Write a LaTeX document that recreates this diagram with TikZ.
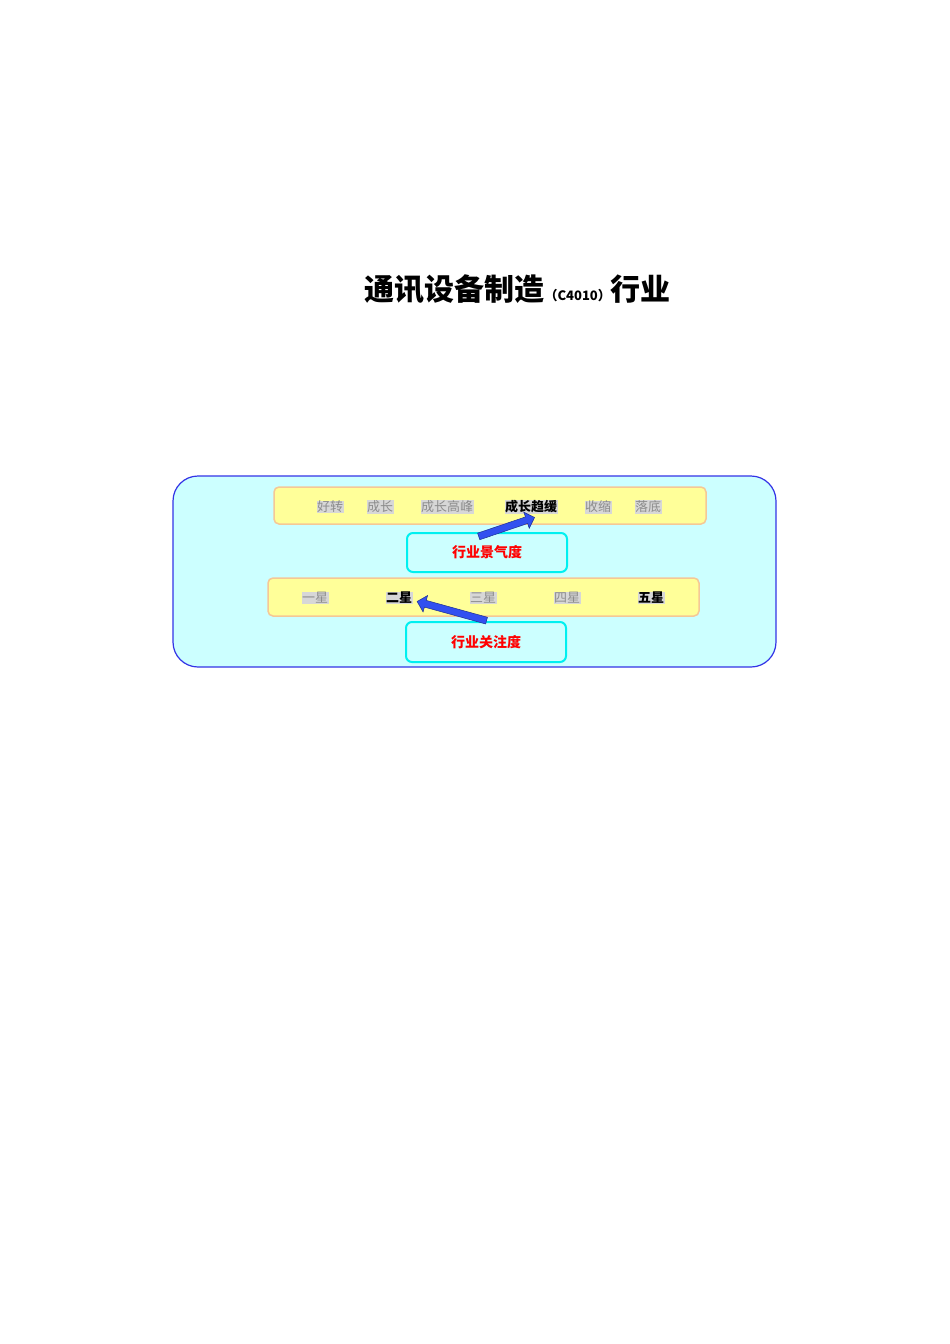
\documentclass[tikz,border=0pt]{standalone}
\usepackage{fontspec}
\newfontfamily\cjk{Noto Sans CJK SC}
\usetikzlibrary{shapes.arrows}
\definecolor{outerfill}{RGB}{204,255,255}
\definecolor{outerline}{RGB}{51,51,230}
\definecolor{yfill}{RGB}{255,255,153}
\definecolor{yline}{RGB}{245,200,150}
\definecolor{cline}{RGB}{0,240,240}
\definecolor{tagbg}{RGB}{215,215,215}
\definecolor{tagfg}{RGB}{140,140,140}
\definecolor{arrowblue}{RGB}{50,80,240}
\tikzset{
  band/.style={draw=yline,line width=1.5pt,fill=yfill,rounded corners=5pt},
  cbox/.style={draw=cline,line width=2pt,fill=outerfill,rounded corners=6pt},
  tag/.style={font=\cjk\fontsize{13}{13}\selectfont,text=tagfg,fill=tagbg,inner sep=0.5pt},
  tagon/.style={font=\cjk\bfseries\fontsize{13}{13}\selectfont,text=black,fill=tagbg,inner sep=0.5pt},
  redlbl/.style={font=\cjk\bfseries\fontsize{14}{14}\selectfont,text=red},
  fat/.style={single arrow,draw=arrowblue!60!black,fill=arrowblue,line width=0.5pt,
    minimum height=#1,minimum width=17pt,single arrow head extend=4pt,
    single arrow head indent=0pt,inner sep=2.5pt}
}
\begin{document}
\begin{tikzpicture}[x=1pt,y=-1pt]
\useasboundingbox (0,0) rectangle (950,1344);
\node[font=\cjk\bfseries\fontsize{30}{30}\selectfont,anchor=base west] (title) at (361,300)
 {通讯设备制造{\fontsize{13}{13}\selectfont （C4010）}行业};
\draw[draw=outerline,line width=1.2pt,fill=outerfill,rounded corners=25pt] (173,476) rectangle (776,667);
\draw[band] (274,487) rectangle (706,524);
\draw[band] (268,578) rectangle (699,616);
\node[cbox,minimum width=160pt,minimum height=39pt] (jq) at (487,552.5) {};
\node[redlbl] at (jq) {行业景气度};
\node[cbox,minimum width=160pt,minimum height=40pt] (gz) at (486,642) {};
\node[redlbl] at (gz) {行业关注度};
\node[tag] (a1) at (330,507) {好转};
\node[tag] (a2) at (380,507) {成长};
\node[tag] (a3) at (447,507) {成长高峰};
\node[tagon] (a4) at (531,507) {成长趋缓};
\node[tag] (a5) at (598,507) {收缩};
\node[tag] (a6) at (648,507) {落底};
\node[tag] (b1) at (315,598) {一星};
\node[tagon] (b2) at (399,598) {二星};
\node[tag] (b3) at (483,598) {三星};
\node[tag] (b4) at (567,598) {四星};
\node[tagon] (b5) at (651,598) {五星};
\node[fat=59pt,rotate=18.7] (ar1) at (505,527.5) {};
\node[fat=72pt,rotate=164.6] (ar2) at (453.5,611.5) {};
\end{tikzpicture}
\end{document}
